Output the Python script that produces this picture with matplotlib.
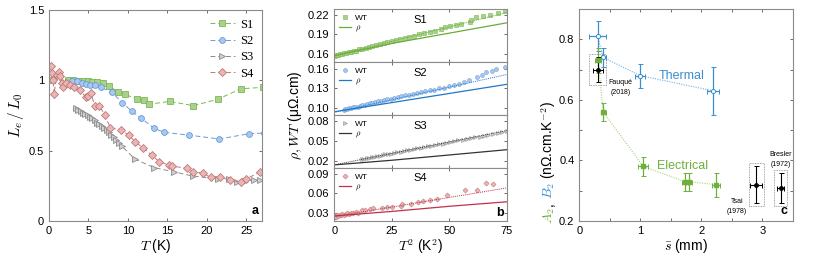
import numpy as np
import matplotlib.pyplot as plt
from matplotlib.ticker import MultipleLocator
from matplotlib.patches import Rectangle

plt.rcParams['font.family'] = ['Liberation Sans', 'DejaVu Sans']
plt.rcParams['mathtext.fontset'] = 'cm'
plt.rcParams['xtick.direction'] = 'in'
plt.rcParams['ytick.direction'] = 'in'
plt.rcParams['xtick.top'] = True
plt.rcParams['ytick.right'] = True
plt.rcParams['axes.edgecolor'] = '#8a8a8a'
plt.rcParams['xtick.color'] = '#555555'
plt.rcParams['ytick.color'] = '#555555'
plt.rcParams['xtick.labelcolor'] = 'black'
plt.rcParams['ytick.labelcolor'] = 'black'

# ---------------- panel a : Lorenz ratio ----------------
a_s1_T = [0.34, 2.4, 3.1, 3.7, 4.4, 4.9, 5.4, 6.1, 6.8, 7.6, 8.7, 9.6, 11.1, 12.0, 12.7, 15.3, 18.3, 21.4, 24.3, 27.1]
a_s1_L = [1.0, 1.0, 1.0, 0.998, 0.995, 0.993, 0.99, 0.986, 0.98, 0.96, 0.92, 0.90, 0.87, 0.86, 0.83, 0.85, 0.82, 0.865, 0.94, 0.95]
a_s2_T = [2.9, 3.6, 4.2, 4.7, 5.2, 5.8, 6.6, 8.0, 9.3, 10.5, 11.7, 13.3, 14.6, 17.8, 21.6, 25.3, 27.2]
a_s2_L = [0.998, 0.993, 0.98, 0.976, 0.97, 0.964, 0.95, 0.915, 0.84, 0.78, 0.73, 0.66, 0.63, 0.61, 0.583, 0.62, 0.625]
a_s3_T = [3.4, 3.7, 4.0, 4.3, 4.6, 4.9, 5.2, 5.5, 5.8, 6.1, 6.4, 6.7, 7.0, 7.3, 7.6, 7.9, 8.2, 8.5, 8.9, 9.2,
          10.9, 13.3, 15.8, 18.2, 21.4, 22.8, 23.8, 24.9, 26.0, 26.8]
a_s3_L = [0.80, 0.79, 0.78, 0.77, 0.76, 0.75, 0.74, 0.73, 0.715, 0.70, 0.69, 0.675, 0.66, 0.645, 0.63, 0.61, 0.595, 0.575, 0.555, 0.535,
          0.44, 0.38, 0.35, 0.32, 0.30, 0.30, 0.275, 0.287, 0.29, 0.29]
a_s4_T = [0.25, 0.34, 0.55, 0.64, 1.0, 1.3, 1.4, 1.6, 1.8, 2.2, 2.7, 3.2, 3.9, 4.7, 5.0, 5.3, 5.8, 6.4, 7.1, 7.8,
          9.1, 10.1, 10.9, 11.9, 13.0, 14.0, 15.2, 15.6, 17.5, 18.3, 19.5, 20.5, 21.7, 23.0, 24.3, 25.0, 26.7]
a_s4_L = [1.10, 1.05, 1.0, 0.90, 1.04, 1.06, 1.03, 0.98, 0.95, 0.98, 0.97, 0.95, 0.93, 0.88, 0.89, 0.91, 0.82, 0.82, 0.75, 0.66,
          0.65, 0.61, 0.565, 0.52, 0.47, 0.42, 0.40, 0.39, 0.375, 0.35, 0.34, 0.31, 0.315, 0.29, 0.275, 0.30, 0.345]

# ---------------- panel b : rho and WT vs T^2 ----------------
b_s1_x = [0.2, 1.0, 1.8, 2.6, 3.4, 4.3, 5.2, 6.2, 7.3, 8.4, 9.6, 10.9, 12.2, 13.6, 15.0, 16.5, 18.1, 19.7, 21.4, 23.1,
          24.9, 26.8, 28.7, 30.7, 32.7, 34.8, 37.0, 39.2, 41.5, 43.8, 46.2, 48.1, 50.3, 52.9, 55.3, 58.9, 59.3, 61.8,
          64.7, 67.9, 71.2, 74.1]
b_s1_wt = [0.157, 0.158, 0.158, 0.159, 0.160, 0.161, 0.161, 0.162, 0.163, 0.164, 0.165, 0.167, 0.168, 0.169, 0.170,
           0.172, 0.173, 0.175, 0.176, 0.178, 0.180, 0.181, 0.183, 0.185, 0.186, 0.188, 0.190, 0.192, 0.194, 0.196,
           0.199, 0.201, 0.203, 0.205, 0.206, 0.209, 0.213, 0.217, 0.219, 0.220, 0.223, 0.227]
b_s2_x = [4.0, 4.8, 5.6, 6.4, 7.3, 8.2, 9.1, 10.1, 11.1, 12.1, 13.2, 14.3, 15.4, 16.6, 17.8, 19.1, 20.4, 21.7, 23.1,
          24.5, 26.0, 27.5, 29.1, 30.7, 32.4, 34.1, 35.9, 37.7, 39.6, 41.5, 43.5, 45.5, 47.6, 49.7, 51.9, 54.1, 56.4,
          58.7, 61.9, 64.1, 66.2, 68.4, 70.5, 74.1]
b_s2_wt = [0.097, 0.098, 0.098, 0.099, 0.100, 0.101, 0.102, 0.102, 0.103, 0.104, 0.105, 0.106, 0.107, 0.108, 0.109,
           0.110, 0.111, 0.112, 0.113, 0.114, 0.115, 0.116, 0.118, 0.119, 0.120, 0.121, 0.123, 0.124, 0.126, 0.127,
           0.128, 0.130, 0.131, 0.133, 0.135, 0.137, 0.139, 0.142, 0.148, 0.151, 0.155, 0.156, 0.159, 0.162]
b_s3_x = [12.0, 13.0, 14.1, 15.2, 16.3, 17.4, 18.6, 19.8, 21.0, 22.2, 23.5, 24.8, 26.1, 27.4, 28.8, 30.2, 31.6, 33.0,
          34.5, 36.0, 37.5, 39.0, 40.6, 42.2, 43.8, 45.4, 47.1, 48.8, 50.5, 52.2, 54.0, 55.8, 57.6, 59.4, 61.3, 63.2,
          65.1, 67.0, 69.0, 71.0, 73.0, 75.0]
b_s3_wt = [0.023, 0.023, 0.024, 0.025, 0.026, 0.026, 0.027, 0.028, 0.029, 0.030, 0.030, 0.031, 0.032, 0.033, 0.034,
           0.035, 0.036, 0.037, 0.038, 0.039, 0.040, 0.041, 0.042, 0.043, 0.044, 0.045, 0.046, 0.047, 0.048, 0.050,
           0.051, 0.052, 0.053, 0.054, 0.056, 0.057, 0.058, 0.059, 0.061, 0.062, 0.064, 0.066]
b_s4_x = [0.1, 0.3, 0.6, 0.9, 1.3, 1.8, 2.3, 2.9, 3.5, 4.2, 4.9, 5.7, 6.5, 7.4, 8.3, 9.3, 10.3, 11.9, 13.4, 15.5, 16.9,
          20.6, 22.7, 24.9, 29.0, 29.3, 33.3, 36.2, 38.7, 41.6, 44.5, 48.9, 56.8, 61.9, 65.8, 69.1]
b_s4_wt = [0.025, 0.023, 0.027, 0.024, 0.026, 0.025, 0.027, 0.026, 0.028, 0.027, 0.028, 0.029, 0.028, 0.030, 0.029,
           0.031, 0.030, 0.034, 0.035, 0.036, 0.037, 0.038, 0.039, 0.039, 0.041, 0.043, 0.043, 0.047, 0.048, 0.050,
           0.052, 0.057, 0.065, 0.065, 0.077, 0.075]
b_rho_x = [0, 25, 50, 75]
b_rho = {'S1': [0.157, 0.176, 0.192, 0.208], 'S2': [0.094, 0.108, 0.122, 0.136],
         'S3': [0.014, 0.021, 0.029, 0.037], 'S4': [0.025, 0.032, 0.040, 0.047]}
b_fit = {'S1': [0.157, 0.224], 'S2': [0.093, 0.151], 'S3': [0.014, 0.066], 'S4': [0.024, 0.0686]}
b_ylim = {'S1': (0.147, 0.229), 'S2': (0.089, 0.170), 'S3': (0.0095, 0.0896), 'S4': (0.0176, 0.0998)}
b_yticks = {'S1': [0.16, 0.19, 0.22], 'S2': [0.10, 0.13, 0.16], 'S3': [0.02, 0.05, 0.08], 'S4': [0.03, 0.06, 0.09]}

# ---------------- panel c : A2, B2 vs mean size ----------------
th_s = [0.30, 0.39, 1.0, 2.19]
th_v = [0.81, 0.74, 0.68, 0.63]
th_xe = [0.14, 0.04, 0.08, 0.095]
th_ye = [0.05, 0.03, 0.04, 0.08]
el_s = [0.31, 0.39, 1.05, 1.73, 1.80, 2.24]
el_v = [0.73, 0.56, 0.38, 0.33, 0.33, 0.32]
el_xe = [0.05, 0.04, 0.08, 0.05, 0.05, 0.06]
el_ye = [0.04, 0.03, 0.03, 0.03, 0.03, 0.04]
lit_s = [0.30, 2.90, 3.30]
lit_v = [0.70, 0.32, 0.31]
lit_xe = [0.08, 0.10, 0.06]
lit_ye = [0.04, 0.06, 0.05]
lit_names = ['Fauqué\n(2018)', 'Tsai\n(1978)', 'Bresler\n(1972)']

colors = {'S1': ('#a9d18e', '#7cb850'), 'S2': ('#a9c8f0', '#6a9bd8'),
          'S3': ('#d0d0d0', '#8c8c8c'), 'S4': ('#e9b5b5', '#c07878')}
linecol = {'S1': '#6aac3a', 'S2': '#1f78c8', 'S3': '#333333', 'S4': '#c0304a'}
markers = {'S1': 's', 'S2': 'o', 'S3': '>', 'S4': 'D'}
green = '#6fb03c'
blue = '#3a8fd0'

fig = plt.figure(figsize=(8.3, 2.68), dpi=100)

# ===== a =====
axa = fig.add_axes([0.059, 0.1754, 0.2566, 0.7873])
series_a = [('S1', a_s1_T, a_s1_L), ('S2', a_s2_T, a_s2_L), ('S3', a_s3_T, a_s3_L), ('S4', a_s4_T, a_s4_L)]
for name, T, L in series_a:
    fc, ec = colors[name]
    ms = 4.2 if name != 'S4' else 3.8
    axa.plot(T, L, ls=(0, (5, 3)), lw=0.7, color=ec, marker=markers[name], ms=ms,
             mfc=fc, mec=ec, mew=0.6, label=name)
axa.set_xlim(0, 27)
axa.set_ylim(0, 1.5)
axa.set_xticks([0, 5, 10, 15, 20, 25])
axa.set_yticks([0, 0.5, 1, 1.5])
axa.set_yticklabels(['0', '0.5', '1', '1.5'])
axa.tick_params(labelsize=8, length=2.5, width=0.6)
axa.set_xlabel('$T$ (K)', fontsize=10, labelpad=1)
axa.set_ylabel('$L_e\\,/\\,L_0$', fontsize=11, labelpad=2)
leg = axa.legend(loc='upper right', frameon=False, prop={'family': 'Liberation Serif', 'size': 9},
                 handlelength=2.0, handletextpad=0.4, labelspacing=0.35, borderaxespad=0.3)
axa.text(0.985, 0.02, 'a', transform=axa.transAxes, ha='right', va='bottom', fontsize=9, fontweight='bold')

# ===== b =====
b_left, b_w = 0.4028, 0.2077
b_top, b_bot = 0.9653, 0.1765
h = (b_top - b_bot) / 4
b_data = [('S1', b_s1_x, b_s1_wt), ('S2', b_s2_x, b_s2_wt), ('S3', b_s3_x, b_s3_wt), ('S4', b_s4_x, b_s4_wt)]
axes_b = []
for i, (name, x, wt) in enumerate(b_data):
    ax = fig.add_axes([b_left, b_top - (i + 1) * h, b_w, h])
    axes_b.append(ax)
    fc, ec = colors[name]
    ms = 2.8 if name != 'S4' else 2.6
    ax.plot(x, wt, ls='none', marker=markers[name], ms=ms, mfc=fc, mec=ec, mew=0.4, label='WT')
    ax.plot(b_rho_x, b_rho[name], color=linecol[name], lw=0.9, label='$\\rho$')
    ax.plot([0, 75], b_fit[name], color=linecol[name], lw=0.7, ls=(0, (1, 1)))
    ax.set_xlim(0, 75)
    ax.set_ylim(*b_ylim[name])
    ax.set_yticks(b_yticks[name])
    ax.set_yticklabels(['%.2f' % v for v in b_yticks[name]])
    ax.set_xticks([0, 25, 50, 75])
    ax.tick_params(labelsize=8, length=2.5, width=0.6)
    if i < 3:
        ax.tick_params(labelbottom=False)
    ax.text(0.5, 0.80, name, transform=ax.transAxes, ha='center', va='center', fontsize=8)
    ax.legend(loc='upper left', frameon=False, fontsize=6, handlelength=1.4, handletextpad=0.5,
              labelspacing=0.2, borderaxespad=0.2, markerscale=1.0)
axes_b[-1].set_xlabel('$T^2$ (K$^2$)', fontsize=10, labelpad=1)
fig.text(0.356, (b_top + b_bot) / 2, '$\\rho, WT$ (μΩ.cm)', rotation=90, ha='center', va='center',
         fontsize=10)
axes_b[-1].text(0.985, 0.04, 'b', transform=axes_b[-1].transAxes, ha='right', va='bottom',
                fontsize=9, fontweight='bold')

# ===== c =====
axc = fig.add_axes([0.698, 0.1754, 0.2571, 0.791])
axc.plot(th_s, th_v, ls=(0, (1, 1.2)), lw=0.8, color='#6fb0e0')
axc.errorbar(th_s, th_v, xerr=th_xe, yerr=th_ye, fmt='o', ms=3, mfc='white', mec=blue, mew=0.7,
             ecolor=blue, elinewidth=0.9, capsize=1.8, capthick=0.7)
axc.plot(el_s, el_v, ls=(0, (1, 1.2)), lw=0.8, color='#a8d47c')
axc.errorbar(el_s, el_v, xerr=el_xe, yerr=el_ye, fmt='s', ms=2.5, mfc=green, mec=green,
             ecolor=green, elinewidth=0.9, capsize=1.8, capthick=0.7)
axc.errorbar(lit_s, lit_v, xerr=lit_xe, yerr=lit_ye, fmt='o', ms=2.5, color='black',
             elinewidth=0.8, capsize=1.8, capthick=0.7)
for s, v, xe, ye in zip(lit_s, lit_v, [0.135, 0.125, 0.11], [0.05, 0.07, 0.06]):
    axc.add_patch(Rectangle((s - xe, v - ye), 2 * xe, 2 * ye, fill=False, ec='#888888', lw=0.6, ls=(0, (1, 1))))
axc.text(0.48, 0.67, lit_names[0], fontsize=5, ha='left', va='top', multialignment='center', linespacing=1.6)
axc.text(2.75, 0.275, lit_names[1], fontsize=5, ha='right', va='top', multialignment='center', linespacing=1.6)
axc.text(3.3, 0.43, lit_names[2], fontsize=5, ha='center', va='top', multialignment='center', linespacing=1.6)
axc.text(1.67, 0.68, 'Thermal', color=blue, fontsize=9, ha='center', va='center')
axc.text(1.69, 0.38, 'Electrical', color=green, fontsize=9, ha='center', va='center')
axc.set_xlim(0, 3.5)
axc.set_ylim(0.2, 0.9)
axc.set_xticks([0, 1, 2, 3])
axc.set_yticks([0.2, 0.4, 0.6, 0.8])
axc.set_yticklabels(['0.2', '0.4', '0.6', '0.8'])
axc.xaxis.set_minor_locator(MultipleLocator(0.5))
axc.yaxis.set_minor_locator(MultipleLocator(0.1))
axc.tick_params(which='both', labelsize=8, length=2.5, width=0.6)
axc.set_xlabel('$\\bar{s}$ (mm)', fontsize=10, labelpad=1)
axc.text(0.975, 0.02, 'c', transform=axc.transAxes, ha='right', va='bottom', fontsize=9, fontweight='bold')

# multi-coloured y label for panel c, pieces laid end to end along the baseline
fig.canvas.draw()
renderer = fig.canvas.get_renderer()
pieces = [('$A_2$', green), (',', 'black'), ('$B_2$', blue), ('(nΩ.cm.K$^{-2}$)', 'black')]
ypix = 44
xpix = 553
for txt, col in pieces:
    t = fig.text(xpix / 830, ypix / 268, txt, rotation=90, rotation_mode='anchor', color=col,
                 fontsize=10, ha='left', va='baseline')
    bb = t.get_window_extent(renderer)
    ypix += bb.height + (3 if txt in (',', '$B_2$') else 1.5)

fig.savefig('out.png', dpi=100)
